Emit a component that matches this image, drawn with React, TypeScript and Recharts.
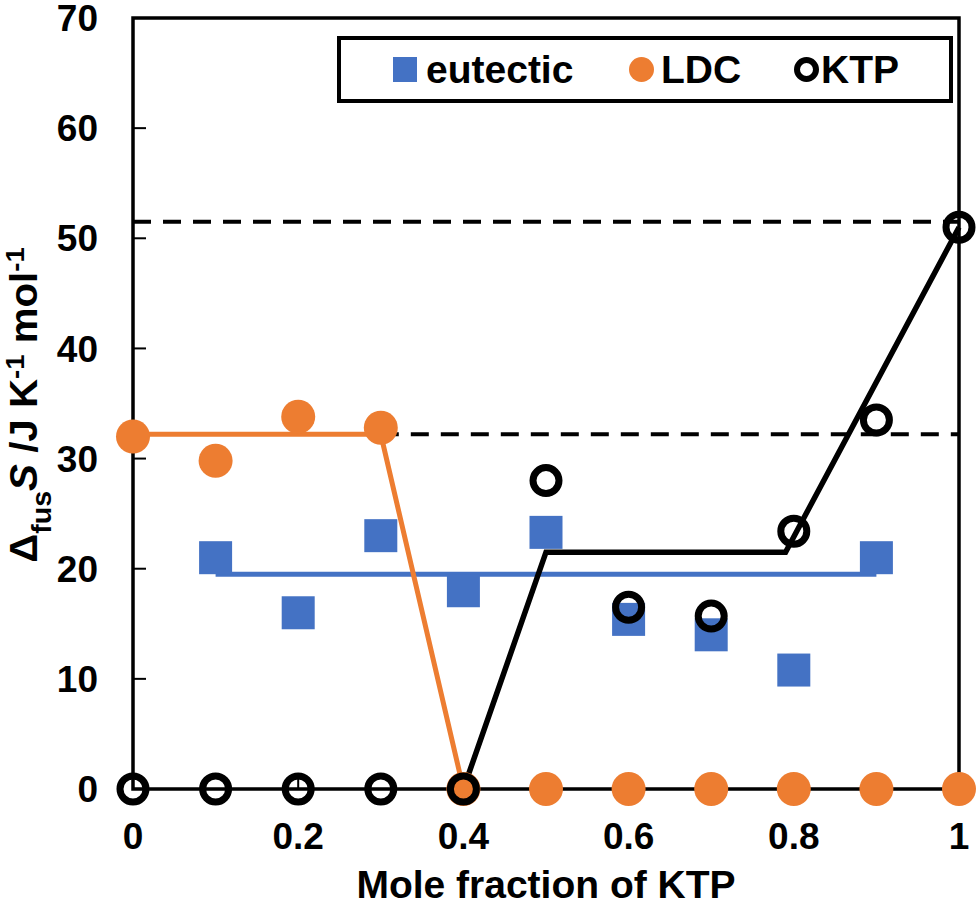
import React from 'react';
import {
  ComposedChart,
  XAxis,
  YAxis,
  Scatter,
  Line,
  ReferenceArea,
  Legend,
  Label,
} from 'recharts';

/* ------------------------------------------------------------------ */
/*  Data                                          */
/* ------------------------------------------------------------------ */

const molFractions = [0, 0.1, 0.2, 0.3, 0.4, 0.5, 0.6, 0.7, 0.8, 0.9, 1];
const eutecticFractions = [0.1, 0.2, 0.3, 0.4, 0.5, 0.6, 0.7, 0.8, 0.9];
const eutecticValues = [21, 16, 23, 18, 23.3, 15.4, 14, 10.8, 21];
const ldcValues = [32, 29.8, 33.8, 32.8, 0, 0, 0, 0, 0, 0, 0];
const ktpValues = [0, 0, 0, 0, 0, 28, 16.5, 15.7, 23.4, 33.5, 51];

// guide lines drawn over the markers
const eutecticLineX = [0.1, 0.9];
const eutecticLineY = [19.5, 19.5];
const ldcLineX = [0, 0.3, 0.4];
const ldcLineY = [32.2, 32.2, 0];
const ktpLineX = [0.4, 0.5, 0.79, 1];
const ktpLineY = [0, 21.5, 21.5, 51];
const upperDashX = [0, 1];
const upperDashY = [51.5, 51.5];
const lowerDashX = [0.3, 1];
const lowerDashY = [32.2, 32.2];

const xTicks = [0, 0.2, 0.4, 0.6, 0.8, 1];
const yTicks = [0, 10, 20, 30, 40, 50, 60, 70];

const BLUE = '#4472C4';
const ORANGE = '#ED7D31';
const FONT = '"Liberation Sans", Arial, sans-serif';

const zip = (xs: number[], ys: number[]) => xs.map((x, i) => ({ x, y: ys[i] }));

const eutecticData = zip(eutecticFractions, eutecticValues);
const ldcData = zip(molFractions, ldcValues);
const ktpData = zip(molFractions, ktpValues);

/* ------------------------------------------------------------------ */
/*  Marker shapes                                                     */
/* ------------------------------------------------------------------ */

const SquareMark = (p: any) => (
  <rect x={p.cx - 16.5} y={p.cy - 16.5} width={33} height={33} fill={BLUE} />
);
const DiscMark = (p: any) => <circle cx={p.cx} cy={p.cy} r={17} fill={ORANGE} />;
const RingMark = (p: any) => (
  <circle cx={p.cx} cy={p.cy} r={13} fill="none" stroke="#000" strokeWidth={7} />
);

const tickStyle = { fontSize: 37, fontWeight: 700, fill: '#000', fontFamily: FONT };

function YLabel() {
  return (
    <text
      transform="translate(37, 405) rotate(-90) scale(1.06, 1)"
      textAnchor="middle"
      fontFamily={FONT}
      fontWeight={700}
      fontSize={38}
      fill="#000"
    >
      <tspan>Δ</tspan>
      <tspan fontSize={27} dy={14}>fus</tspan>
      <tspan dy={-14} fontStyle="italic">S</tspan>
      <tspan> /J K</tspan>
      <tspan fontSize={26} dy={-13}>-1</tspan>
      <tspan dy={13}> mol</tspan>
      <tspan fontSize={26} dy={-13}>-1</tspan>
    </text>
  );
}

function LegendBox() {
  const text: React.CSSProperties = {
    position: 'absolute',
    top: 7,
    fontSize: 39,
    fontWeight: 700,
    fontFamily: FONT,
    lineHeight: '45px',
    color: '#000',
  };
  return (
    <div
      style={{
        position: 'relative',
        width: 616,
        height: 67,
        border: '4px solid #000',
        boxSizing: 'border-box',
        background: '#fff',
      }}
    >
      <div style={{ position: 'absolute', left: 52, top: 17, width: 24, height: 25, background: BLUE }} />
      <span style={{ ...text, left: 85 }}>eutectic</span>
      <div style={{ position: 'absolute', left: 288, top: 17, width: 25, height: 25, borderRadius: '50%', background: ORANGE }} />
      <span style={{ ...text, left: 320 }}>LDC</span>
      <div
        style={{
          position: 'absolute',
          left: 453,
          top: 17,
          width: 25,
          height: 25,
          borderRadius: '50%',
          border: '6px solid #000',
          boxSizing: 'border-box',
        }}
      />
      <span style={{ ...text, left: 480 }}>KTP</span>
    </div>
  );
}

export default function App() {
  return (
    <div style={{ position: 'absolute', left: 0, top: 0, width: 979, height: 907, background: '#fff' }}>
      <ComposedChart width={979} height={907} margin={{ top: 18, right: 20, bottom: 0, left: 0 }}>
        <XAxis
          dataKey="x"
          type="number"
          domain={[0, 1]}
          ticks={xTicks}
          tickFormatter={(v) => String(v)}
          axisLine={false}
          tickLine={{ stroke: '#000', strokeWidth: 2 }}
          tickSize={-12}
          tickMargin={46}
          tick={tickStyle}
          height={118}
          interval={0}
        >
          <Label
            value="Mole fraction of KTP"
            position="insideBottom"
            offset={9}
            style={{ fontSize: 39, fontWeight: 700, fill: '#000', fontFamily: FONT }}
          />
        </XAxis>
        <YAxis
          dataKey="y"
          type="number"
          domain={[0, 70]}
          ticks={yTicks}
          axisLine={false}
          tickLine={{ stroke: '#000', strokeWidth: 2 }}
          tickSize={-13}
          tickMargin={48}
          tick={tickStyle}
          width={133}
          interval={0}
          label={<YLabel />}
        />
        <ReferenceArea x1={0} x2={1} y1={0} y2={70} fill="none" stroke="#000" strokeWidth={3.5} fillOpacity={0} />
        <Legend
          layout="horizontal"
          verticalAlign="middle"
          align="center"
          content={() => <LegendBox />}
          wrapperStyle={{ position: 'absolute', left: 337, top: 36, width: 616, height: 67 }}
        />
        <Line data={zip(upperDashX, upperDashY)} dataKey="y" stroke="#000" strokeWidth={4} strokeDasharray="18 12" dot={false} legendType="none" isAnimationActive={false} />
        <Line data={zip(lowerDashX, lowerDashY)} dataKey="y" stroke="#000" strokeWidth={4} strokeDasharray="18 12" dot={false} legendType="none" isAnimationActive={false} />
        <Scatter name="eutectic" data={eutecticData} dataKey="y" shape={SquareMark} isAnimationActive={false} />
        <Line data={zip(eutecticLineX, eutecticLineY)} dataKey="y" stroke={BLUE} strokeWidth={5} dot={false} legendType="none" isAnimationActive={false} />
        <Line data={zip(ldcLineX, ldcLineY)} dataKey="y" stroke={ORANGE} strokeWidth={5} dot={false} legendType="none" isAnimationActive={false} />
        <Line data={zip(ktpLineX, ktpLineY)} dataKey="y" stroke="#000" strokeWidth={5.5} dot={false} legendType="none" isAnimationActive={false} />
        <Scatter name="LDC" data={ldcData} dataKey="y" shape={DiscMark} isAnimationActive={false} />
        <Scatter name="KTP" data={ktpData} dataKey="y" shape={RingMark} isAnimationActive={false} />
      </ComposedChart>
    </div>
  );
}
